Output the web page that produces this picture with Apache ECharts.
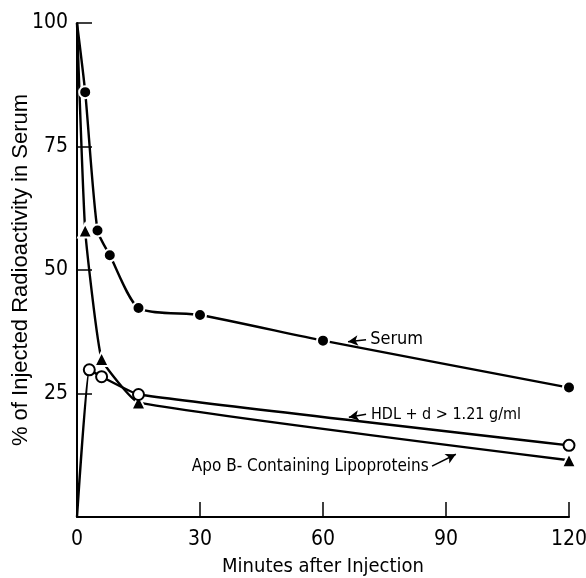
<!DOCTYPE html>
<html>
<head>
<meta charset="utf-8">
<script src="https://cdn.jsdelivr.net/npm/echarts@6/dist/echarts.min.js"></script>
<style>
  html, body { margin: 0; padding: 0; background: #fff; }
  #chart { width: 586px; height: 578px; }
</style>
</head>
<body>
<div id="chart"></div>
<script>
// values (minutes, % of injected radioactivity)
const serum = [[0, 100], [2, 86], [5, 58], [8, 53], [15, 42.3], [30, 40.9], [60, 35.7], [120, 26.2]]
const apoB = [[0, 100], [2, 58], [6, 32], [15, 23.2], [120, 11.5]]
const hdl = [[0, 0], [3, 29.8], [6, 28.4], [15, 24.8], [120, 14.5]]

const xTicks = [0, 30, 60, 90, 120]
const yTicks = [25, 50, 75, 100]

// annotation arrows [from, to] in data units
const arrows = [
  [[70.5, 35.9], [66.1, 35.5]],
  [[70.5, 20.8], [66.3, 20.2]],
  [[86.6, 10.3], [92.4, 12.7]]
]
// annotation labels, anchored at their left edge
const notes = [
  { text: 'Serum', at: [71.5, 35.9], size: 18 },
  { text: 'HDL + d > 1.21 g/ml', at: [71.7, 20.6], size: 16 },
  { text: 'Apo B- Containing Lipoproteins', at: [28, 10.3], size: 17 }
]

const FONT = "'Liberation Sans Narrow', 'DejaVu Sans Condensed', sans-serif"

const chart = echarts.init(document.getElementById('chart'))

const lineBase = {
  type: 'line',
  color: '#000',
  lineStyle: { color: '#000', width: 2.4 },
  z: 3
}

const option = {
  animation: false,
  backgroundColor: '#fff',
  grid: { left: 77, right: 17, top: 23, bottom: 61, containLabel: false, outerBoundsMode: 'none' },
  xAxis: {
    type: 'value',
    min: 0,
    max: 120,
    interval: 30,
    name: 'Minutes after Injection',
    nameLocation: 'middle',
    nameGap: 40,
    nameTextStyle: { fontFamily: FONT, fontSize: 20, color: '#000' },
    axisLine: { lineStyle: { color: '#000', width: 2 } },
    axisTick: { inside: true, length: 15, lineStyle: { color: '#000', width: 1.5 } },
    axisLabel: {
      fontFamily: FONT, fontSize: 21, color: '#000', margin: 12,
      formatter: (v) => xTicks.includes(v) ? String(v) : ''
    },
    splitLine: { show: false }
  },
  yAxis: {
    type: 'value',
    min: 0,
    max: 100,
    interval: 25,
    name: '% of Injected Radioactivity in Serum',
    nameLocation: 'middle',
    nameGap: 45,
    nameMoveOverlap: false,
    nameTextStyle: { fontFamily: "'Liberation Sans', Arimo, sans-serif", fontSize: 22, color: '#000' },
    axisLine: { lineStyle: { color: '#000', width: 2 } },
    axisTick: { inside: true, length: 15, lineStyle: { color: '#000', width: 1.5 } },
    axisLabel: {
      fontFamily: FONT, fontSize: 21, color: '#000', margin: 9,
      formatter: (v) => yTicks.includes(v) ? String(v) : ''
    },
    splitLine: { show: false }
  },
  series: [
    Object.assign({}, lineBase, {
      name: 'Serum',
      data: serum,
      smooth: 0.22,
      symbol: 'circle',
      symbolSize: (v) => v[0] === 0 ? 0 : 12,
      itemStyle: { color: '#000', borderColor: '#fff', borderWidth: 2 }
    }),
    Object.assign({}, lineBase, {
      name: 'Apo B',
      data: apoB,
      smooth: 0.12,
      symbol: 'triangle',
      symbolSize: (v) => v[0] === 0 ? 0 : 14,
      itemStyle: { color: '#000', borderColor: '#fff', borderWidth: 2 },
      markLine: {
        silent: true,
        symbol: ['none', 'arrow'],
        symbolSize: [8, 10],
        label: { show: false },
        lineStyle: { color: '#000', width: 1.5, type: 'solid' },
        data: arrows.map(([a, b]) => [{ coord: a }, { coord: b }])
      }
    }),
    Object.assign({}, lineBase, {
      name: 'HDL',
      data: hdl,
      smooth: 0.12,
      symbol: 'circle',
      symbolSize: (v) => v[0] === 0 ? 0 : 11,
      itemStyle: { color: '#fff', borderColor: '#000', borderWidth: 2 },
      z: 4
    })
  ]
}

chart.setOption(option)

chart.setOption({
  graphic: notes.map((n) => {
    const p = chart.convertToPixel({ gridIndex: 0 }, n.at)
    return {
      type: 'text',
      x: p[0],
      y: p[1],
      style: {
        text: n.text,
        font: n.size + 'px ' + FONT,
        fill: '#000',
        textAlign: 'left',
        textVerticalAlign: 'middle'
      }
    }
  })
})
</script>
</body>
</html>
